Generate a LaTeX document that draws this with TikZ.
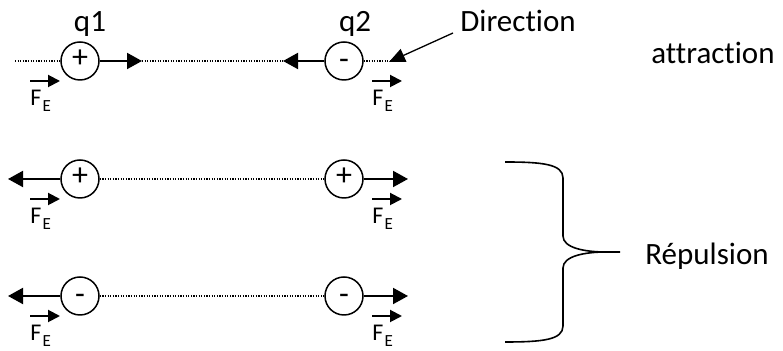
\documentclass[tikz,border=0pt]{standalone}
\usepackage{fontspec}
\setmainfont{Carlito}[Ligatures=NoCommon]
\usetikzlibrary{arrows.meta}

\tikzset{
  charge/.style={draw, circle, line width=0.75pt, minimum size=19pt, inner sep=0pt,
    text height=0.7em, text depth=0pt, font=\fontsize{16}{18}\selectfont},
  force/.style={line width=1pt, -{Triangle[length=7.5pt,width=8pt]}},
  feforce/.style={line width=1pt, -{Triangle[length=6pt,width=6pt]}},
  pointer/.style={line width=0.65pt, -{Triangle[length=8pt,width=7pt]}},
  fieldline/.style={line width=0.6pt, dash pattern=on 0.6pt off 0.7pt},
  felabel/.style={inner sep=0pt, anchor=base west},
  txt/.style={inner sep=0pt, anchor=base west, font=\fontsize{15.5}{18}\selectfont},
}
\newcommand{\FE}{{\fontsize{12}{12}\selectfont F\kern0.6pt\raisebox{-3pt}{\fontsize{8.5}{9}\selectfont E}}}

\begin{document}
\begin{tikzpicture}[x=0.5pt,y=-0.5pt]
	\useasboundingbox (0,0) rectangle (783,351);
	% attraction
	\node[charge] (a1) at (80,61) {+};
	\node[charge] (a2) at (344,61) {\raisebox{-0.05em}{-}};
	\node[txt,anchor=base] (q1) at (90,32) {q1};
	\node[txt,anchor=base] (q2) at (355,32) {q2};
	\coordinate (aL) at (15,61);
	\coordinate (a1f) at (142,61);
	\coordinate (a2f) at (283,61);
	\coordinate (aR) at (400,61);
	\draw[fieldline] (aL) -- (a1);
	\draw[fieldline] (a1f) -- (a2f);
	\draw[fieldline] (a2) -- (aR);
	\draw[force] (a1) -- (a1f);
	\draw[force] (a2) -- (a2f);
	\node[txt] (dir) at (460,32) {Direction};
	\coordinate (dirS) at (453,33);
	\coordinate (dirT) at (389,62);
	\draw[pointer] (dirS) -- (dirT);
	\node[txt] (attr) at (651,64) {attraction};
	% repulsion, + +
	\node[charge] (p1) at (80,179) {+};
	\node[charge] (p2) at (344,179) {+};
	\coordinate (pL) at (8,179);
	\coordinate (pR) at (408,179);
	\draw[fieldline] (p1) -- (p2);
	\draw[force] (p1) -- (pL);
	\draw[force] (p2) -- (pR);
	% repulsion, - -
	\node[charge] (n1) at (80,296) {\raisebox{-0.05em}{-}};
	\node[charge] (n2) at (344,296) {\raisebox{-0.05em}{-}};
	\coordinate (nL) at (8,296);
	\coordinate (nR) at (408,296);
	\draw[fieldline] (n1) -- (n2);
	\draw[force] (n1) -- (nL);
	\draw[force] (n2) -- (nR);
	% force labels
	\foreach \y in {61,179,296}
		\foreach \x in {30,372} {
			\node[felabel] (fe) at (\x,\y+45) {\FE};
			\draw[feforce] ([yshift=12.5pt]fe.base west) -- ++(30,0);
		}
	% brace
	\draw[line width=0.8pt] (505,162) .. controls (542,162) and (563,164) .. (563,178)
		-- (563,236) .. controls (563,248) and (585,252) .. (606,252) -- (620,252)
		(606,252) .. controls (585,252) and (563,256) .. (563,268)
		-- (563,326) .. controls (563,340) and (542,342) .. (505,342);
	\node[txt] (rep) at (645,265) {Répulsion};
\end{tikzpicture}
\end{document}
